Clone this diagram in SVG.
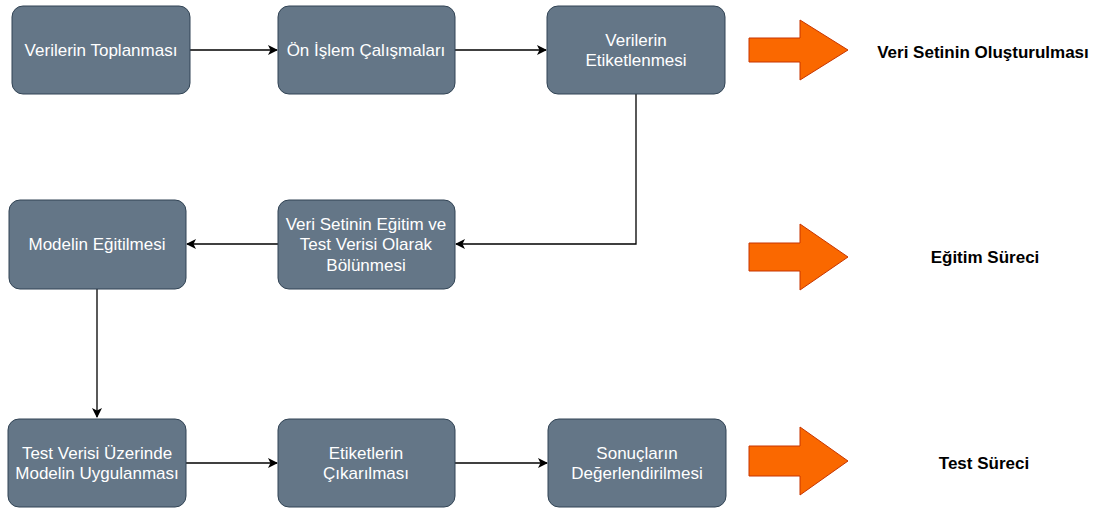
<svg xmlns="http://www.w3.org/2000/svg" width="1099" height="509" viewBox="0 0 1099 509">
<defs>
<style>
.box{fill:#647687;stroke:#314354;stroke-width:1}
.bt{fill:#ffffff;font-family:"Liberation Sans",Arial,sans-serif;font-size:17px;text-anchor:middle}
.lbl{fill:#000000;font-family:"Liberation Sans",Arial,sans-serif;font-size:17px;font-weight:bold;text-anchor:middle}
.edge{fill:none;stroke:#000000;stroke-width:1.3}
.big{fill:#fa6800;stroke:#c73500;stroke-width:1}
</style>
<marker id="ah" viewBox="0 0 10 10" refX="9" refY="5" markerWidth="10" markerHeight="10" markerUnits="userSpaceOnUse" orient="auto">
<path d="M0,0 L10,5 L0,10 L2.5,5 Z" fill="#000000"/>
</marker>
</defs>
<rect width="1099" height="509" fill="#ffffff"/>
<g id="connectors">
<path class="edge" d="M190,50 L277,50" marker-end="url(#ah)"/>
<path class="edge" d="M455,50 L546,50" marker-end="url(#ah)"/>
<path class="edge" d="M636,94 L636,244 L456,244" marker-end="url(#ah)"/>
<path class="edge" d="M278,244 L187,244" marker-end="url(#ah)"/>
<path class="edge" d="M97,289 L97,417" marker-end="url(#ah)"/>
<path class="edge" d="M186,463 L277,463" marker-end="url(#ah)"/>
<path class="edge" d="M455,463 L547,463" marker-end="url(#ah)"/>
</g>
<g id="n1"><rect class="box" x="12" y="6" width="178" height="88" rx="11"/><text class="bt" x="101" y="56">Verilerin Toplanması</text></g>
<g id="n2"><rect class="box" x="278" y="6" width="177" height="88" rx="11"/><text class="bt" x="366" y="56">Ön İşlem Çalışmaları</text></g>
<g id="n3"><rect class="box" x="547" y="6" width="178" height="88" rx="11"/><text class="bt" x="636" y="46">Verilerin</text><text class="bt" x="636" y="66">Etiketlenmesi</text></g>
<g id="n4"><rect class="box" x="9" y="200" width="177" height="89" rx="11"/><text class="bt" x="97" y="250">Modelin Eğitilmesi</text></g>
<g id="n5"><rect class="box" x="278" y="200" width="177" height="89" rx="11"/><text class="bt" x="366" y="230">Veri Setinin Eğitim ve</text><text class="bt" x="366" y="250">Test Verisi Olarak</text><text class="bt" x="366" y="271">Bölünmesi</text></g>
<g id="n6"><rect class="box" x="8" y="419" width="178" height="88" rx="11"/><text class="bt" x="97" y="459">Test Verisi Üzerinde</text><text class="bt" x="97" y="479">Modelin Uygulanması</text></g>
<g id="n7"><rect class="box" x="278" y="419" width="177" height="88" rx="11"/><text class="bt" x="366" y="459">Etiketlerin</text><text class="bt" x="366" y="479">Çıkarılması</text></g>
<g id="n8"><rect class="box" x="548" y="419" width="178" height="88" rx="11"/><text class="bt" x="637" y="459">Sonuçların</text><text class="bt" x="637" y="479">Değerlendirilmesi</text></g>
<g id="a1"><path class="big" d="M749,38 L800,38 L800,20 L848,50 L800,80 L800,62 L749,62 Z"/></g>
<g id="a2"><path class="big" d="M749,243 L800,243 L800,224 L848,257 L800,290 L800,271 L749,271 Z"/></g>
<g id="a3"><path class="big" d="M749,446 L800,446 L800,427 L848,461 L800,495 L800,476 L749,476 Z"/></g>
<g id="l1"><text class="lbl" x="983" y="58">Veri Setinin Oluşturulması</text></g>
<g id="l2"><text class="lbl" x="985" y="263">Eğitim Süreci</text></g>
<g id="l3"><text class="lbl" x="984" y="469">Test Süreci</text></g>
</svg>
